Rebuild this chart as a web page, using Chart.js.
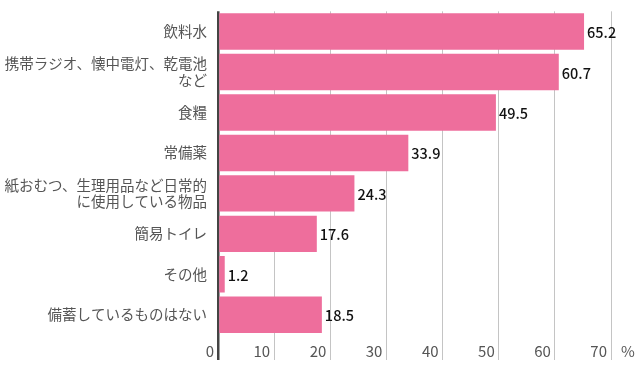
<!DOCTYPE html>
<html lang="ja">
<head>
    <meta charset="UTF-8">
    <title>備蓄しているもの</title>
    <script src="https://cdn.jsdelivr.net/npm/chart.js"></script>
    <style>
        html, body { margin: 0; padding: 0; background: #fff; }
        #wrap { width: 640px; height: 369px; }
    </style>
</head>
<body>
    <div id="wrap"><canvas id="stockChart"></canvas></div>

    <script>
        // data
        const categories = [
            '飲料水',
            ['携帯ラジオ、懐中電灯、乾電池', 'など'],
            '食糧',
            '常備薬',
            ['紙おむつ、生理用品など日常的', 'に使用している物品'],
            '簡易トイレ',
            'その他',
            '備蓄しているものはない'
        ];
        const percents = [65.2, 60.7, 49.5, 33.9, 24.3, 17.6, 1.2, 18.5];
        const xTicks = [0, 10, 20, 30, 40, 50, 60, 70];
        const unitLabel = '%';

        const jpFont = "'Noto Sans CJK JP', 'Noto Sans', sans-serif";

        // value at the end of each bar, plus the % after the last tick
        const barLabels = {
            id: 'barLabels',
            afterDatasetsDraw(chart) {
                const c = chart.ctx;
                const meta = chart.getDatasetMeta(0);
                c.save();
                c.font = "500 14.5px " + jpFont;
                c.fillStyle = '#111';
                c.textAlign = 'left';
                c.textBaseline = 'middle';
                meta.data.forEach((bar, i) => {
                    c.fillText(percents[i].toFixed(1), bar.x + 3, bar.y + 1);
                });
                c.restore();
            },
            afterDraw(chart) {
                const c = chart.ctx;
                const xs = chart.scales.x;
                c.save();
                c.font = "15px " + jpFont;
                c.fillStyle = '#555';
                c.textAlign = 'left';
                c.textBaseline = 'middle';
                c.fillText(unitLabel, xs.getPixelForValue(xTicks[xTicks.length - 1]) + 10, 351);
                c.restore();
            }
        };

        new Chart(document.getElementById('stockChart'), {
            type: 'bar',
            data: {
                labels: categories,
                datasets: [{
                    data: percents,
                    backgroundColor: '#ee6e9c',
                    borderWidth: 0,
                    barPercentage: 0.9,
                    categoryPercentage: 1.0
                }]
            },
            options: {
                indexAxis: 'y',
                responsive: true,
                maintainAspectRatio: false,
                animation: false,
                layout: { padding: { top: 4, right: 29, left: 0, bottom: 0 } },
                plugins: {
                    legend: { display: false },
                    tooltip: { enabled: false }
                },
                scales: {
                    x: {
                        min: 0,
                        max: 70,
                        afterBuildTicks: (scale) => {
                            scale.ticks = xTicks.map(v => ({ value: v }));
                        },
                        afterFit: (scale) => { scale.height = 34; },
                        border: { display: false },
                        grid: {
                            color: (ctx) => ctx.tick && ctx.tick.value === 0 ? '#444' : '#c4c4c4',
                            lineWidth: (ctx) => ctx.tick && ctx.tick.value === 0 ? 2.5 : 1,
                            tickLength: 25
                        },
                        ticks: {
                            align: 'end',
                            labelOffset: -4,
                            padding: -18,
                            color: '#555',
                            font: { family: jpFont, size: 15 }
                        }
                    },
                    y: {
                        afterFit: (scale) => { scale.width = 218; },
                        border: { display: false },
                        grid: { display: false },
                        ticks: {
                            padding: 3,
                            color: '#555',
                            font: { family: jpFont, size: 14.5, lineHeight: 1.15 }
                        }
                    }
                }
            },
            plugins: [barLabels]
        });
    </script>
</body>
</html>
